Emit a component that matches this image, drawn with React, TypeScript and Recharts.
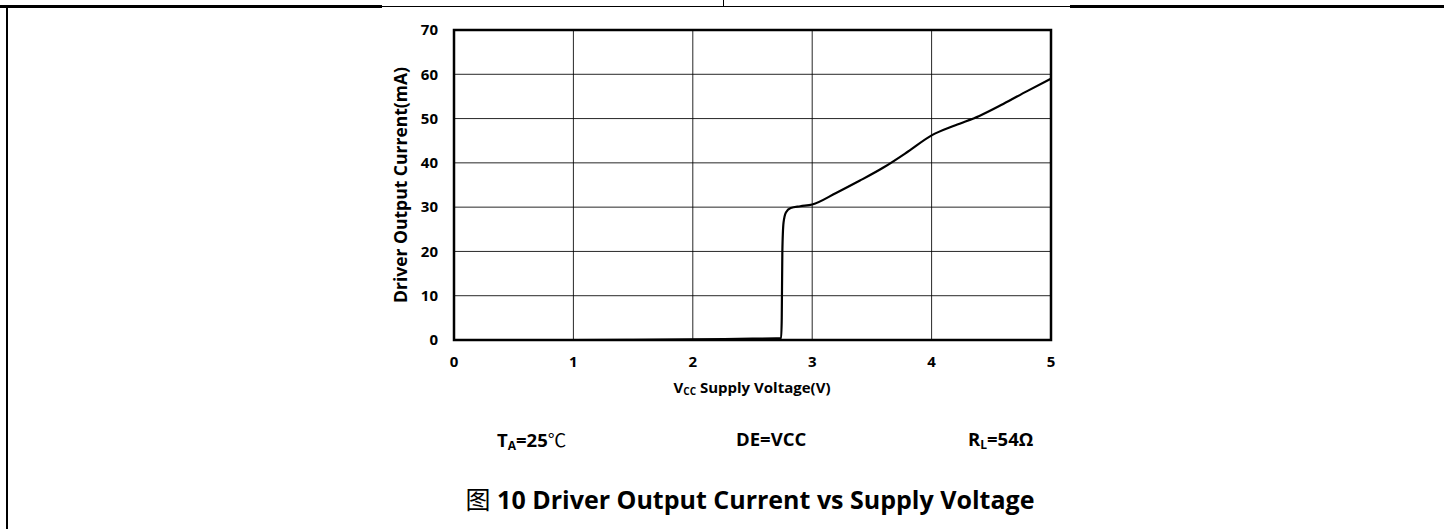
import React from 'react';
import {
  LineChart,
  Line,
  XAxis,
  YAxis,
  CartesianGrid,
  ReferenceArea,
} from 'recharts';

// Vcc (V) vs driver output current (mA)
const voltage = [
  0, 0.5, 1.0, 1.5, 2.0, 2.5, 2.7, 2.74, 2.745, 2.75, 2.76, 2.78, 2.82, 2.9,
  3.0, 3.2, 3.4, 3.6, 3.8, 4.0, 4.2, 4.4, 4.6, 4.8, 5.0,
];
const current = [
  0, 0, 0, 0.05, 0.15, 0.3, 0.35, 0.4, 5, 20, 26.5, 28.8, 29.8, 30.2,
  30.6, 33.2, 36.0, 39.0, 42.5, 46.2, 48.5, 50.6, 53.3, 56.2, 59.0,
];
const xTicks = [0, 1, 2, 3, 4, 5];
const yTicks = [0, 10, 20, 30, 40, 50, 60, 70];

const data = voltage.map((v, i) => ({ v, i: current[i] }));

const FONT = "'Open Sans', 'Noto Sans CJK SC', sans-serif";
const tickStyle = { fill: '#000', fontSize: 15, fontWeight: 700, fontFamily: FONT };

const subStyle = (size: number, drop: number) => ({
  fontSize: size,
  verticalAlign: 'baseline',
  position: 'relative' as const,
  top: drop,
});

const condStyle = {
  position: 'absolute' as const,
  top: 426,
  fontSize: 18.5,
  fontWeight: 700,
  whiteSpace: 'nowrap' as const,
};

export default function App() {
  return (
    <div
      style={{
        position: 'absolute',
        left: 0,
        top: 0,
        width: 1444,
        height: 529,
        background: '#fff',
        overflow: 'hidden',
        fontFamily: FONT,
        color: '#000',
      }}
    >
      {/* document table frame */}
      <div style={{ position: 'absolute', left: 0, top: 5, width: 382, height: 3, background: '#000' }} />
      <div style={{ position: 'absolute', left: 382, top: 6, width: 688, height: 1, background: '#000' }} />
      <div style={{ position: 'absolute', left: 1070, top: 5, width: 374, height: 3, background: '#000' }} />
      <div style={{ position: 'absolute', left: 723, top: 0, width: 1, height: 6, background: '#000' }} />
      <div style={{ position: 'absolute', left: 6, top: 5, width: 2, height: 524, background: '#000' }} />

      <div style={{ position: 'absolute', left: 0, top: 0 }}>
        <LineChart
          width={1444}
          height={400}
          data={data}
          margin={{ top: 30, right: 393, bottom: 30, left: 394 }}
        >
          <CartesianGrid stroke="#000" strokeWidth={1} strokeOpacity={0.85} />
          <XAxis
            dataKey="v"
            type="number"
            domain={[0, 5]}
            ticks={xTicks}
            axisLine={false}
            tickLine={false}
            tickSize={0}
            tickMargin={16}
            height={30}
            tick={tickStyle}
          />
          <YAxis
            type="number"
            domain={[0, 70]}
            ticks={yTicks}
            axisLine={false}
            tickLine={false}
            tickSize={0}
            tickMargin={16}
            width={60}
            tick={tickStyle}
          />
          <ReferenceArea
            x1={0}
            x2={5}
            y1={0}
            y2={70}
            fill="none"
            stroke="#000"
            strokeWidth={2.5}
            ifOverflow="visible"
          />
          <Line
            dataKey="i"
            type="monotone"
            stroke="#000"
            strokeWidth={2.2}
            dot={false}
            isAnimationActive={false}
          />
        </LineChart>
      </div>

      {/* axis titles */}
      <div
        style={{
          position: 'absolute',
          left: 400,
          top: 185,
          transform: 'translate(-50%, -50%) rotate(-90deg)',
          whiteSpace: 'nowrap',
          fontSize: 17.5,
          fontWeight: 700,
        }}
      >
        Driver Output Current(mA)
      </div>
      <div
        style={{
          position: 'absolute',
          left: 752,
          top: 387,
          transform: 'translate(-50%, -50%)',
          whiteSpace: 'nowrap',
          fontSize: 15,
          fontWeight: 700,
        }}
      >
        V<sub style={subStyle(10, 2)}>CC</sub> Supply Voltage(V)
      </div>

      {/* test conditions */}
      <div style={{ ...condStyle, left: 497 }}>
        T<sub style={subStyle(12, 3)}>A</sub>=25<span style={{ fontFamily: "'Noto Sans CJK SC'", fontWeight: 400 }}>℃</span>
      </div>
      <div style={{ ...condStyle, left: 736 }}>DE=VCC</div>
      <div style={{ ...condStyle, left: 968 }}>
        R<sub style={subStyle(12, 3)}>L</sub>=54Ω
      </div>

      {/* figure caption */}
      <div
        style={{
          position: 'absolute',
          left: 750,
          top: 498,
          transform: 'translate(-50%, -50%)',
          whiteSpace: 'nowrap',
          fontSize: 25,
          fontWeight: 700,
        }}
      >
        <span style={{ fontWeight: 400 }}>图</span> 10 Driver Output Current vs Supply Voltage
      </div>
    </div>
  );
}
